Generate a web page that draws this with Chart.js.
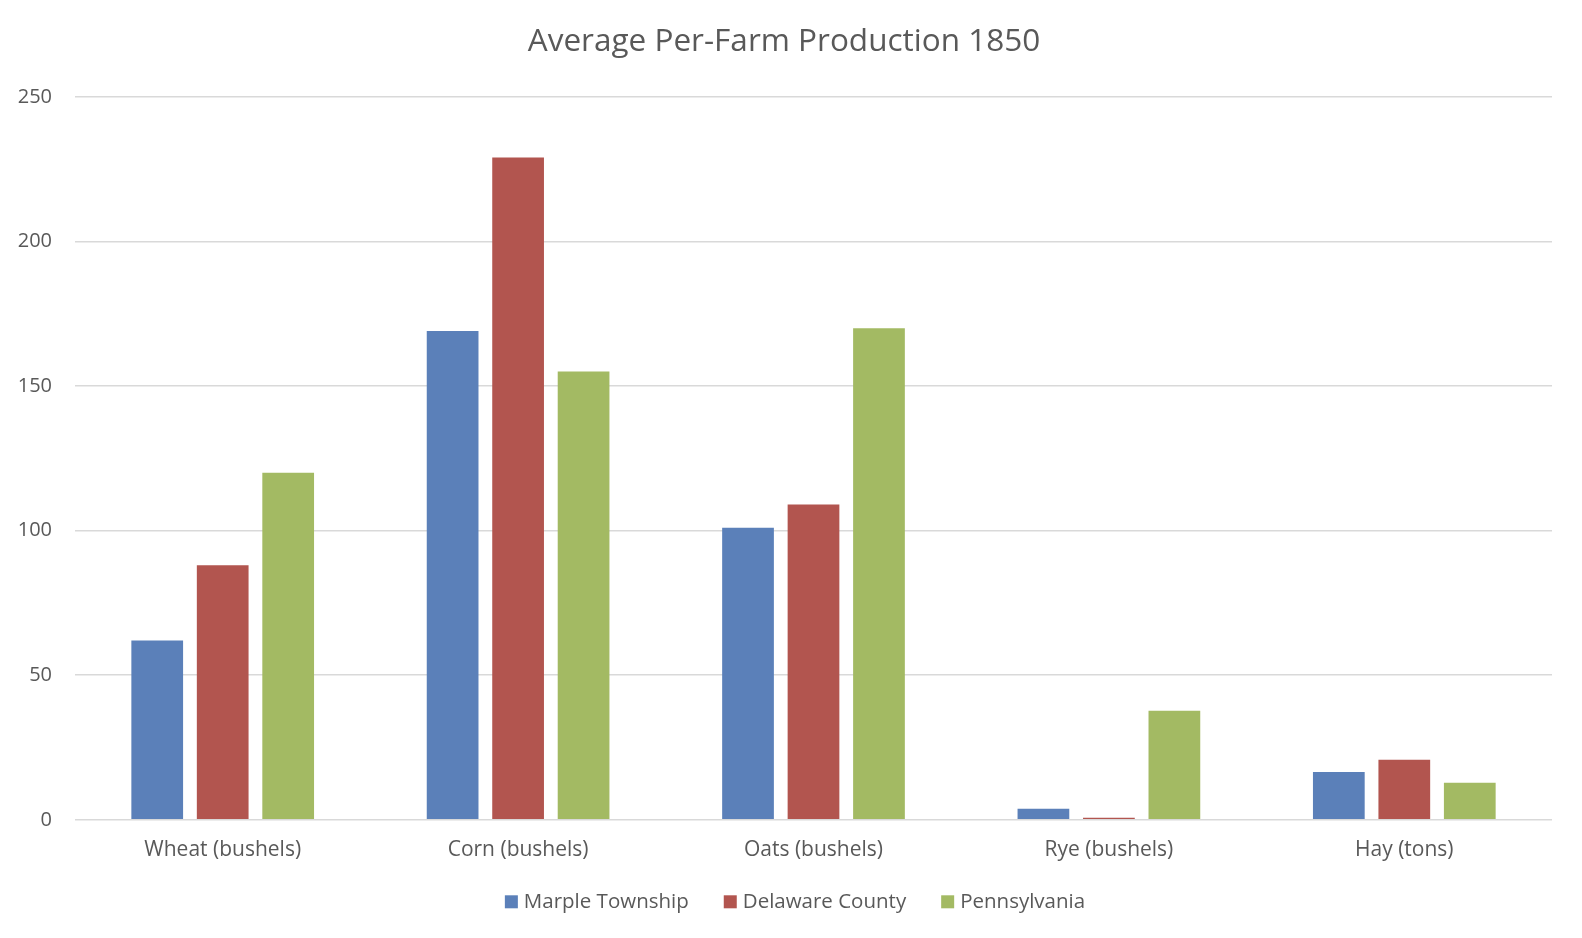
<!DOCTYPE html>
<html>
<head>
<meta charset="utf-8">
<script src="https://cdn.jsdelivr.net/npm/chart.js@4"></script>
<style>
  html, body { margin: 0; padding: 0; background: #fff; }
  #wrap { width: 1582px; height: 938px; }
</style>
</head>
<body>
<div id="wrap"><canvas id="chart"></canvas></div>
<script>
// data
const categories = ["Wheat (bushels)", "Corn (bushels)", "Oats (bushels)", "Rye (bushels)", "Hay (tons)"];
const marple = [62, 169, 101, 3.8, 16.5];
const delaware = [88, 229, 109, 0.7, 20.8];
const pennsylvania = [120, 155, 170, 37.7, 12.8];
const yTicks = [0, 50, 100, 150, 200, 250];

const font = "'Open Sans', 'Noto Sans', sans-serif";
const txt = "#595959";

// legend drawn by hand so the box/text gaps look like the Excel one
const bottomLegend = {
  id: "bottomLegend",
  afterDraw(chart) {
    const c = chart.ctx;
    c.save();
    c.font = "20.5px " + font;
    c.textBaseline = "middle";
    const box = 13, gapText = 6, gapItem = 35;
    const items = chart.data.datasets.map((ds) => ({
      text: ds.label,
      color: ds.backgroundColor,
      w: c.measureText(ds.label).width,
    }));
    const total = items.reduce((s, it) => s + box + gapText + it.w, 0) + gapItem * (items.length - 1);
    let x = chart.width / 2 + 4 - total / 2;
    const y = chart.chartArea.bottom + 82;
    items.forEach((it) => {
      c.fillStyle = it.color;
      c.fillRect(x, y - box / 2, box, box);
      x += box + gapText;
      c.fillStyle = txt;
      c.fillText(it.text, x, y);
      x += it.w + gapItem;
    });
    c.restore();
  },
};

const ctx = document.getElementById("chart").getContext("2d");
new Chart(ctx, {
  type: "bar",
  data: {
    labels: categories,
    datasets: [
      { label: "Marple Township", data: marple, backgroundColor: "#5B80B9" },
      { label: "Delaware County", data: delaware, backgroundColor: "#B2554F" },
      { label: "Pennsylvania", data: pennsylvania, backgroundColor: "#A3BA63" },
    ],
  },
  options: {
    responsive: true,
    maintainAspectRatio: false,
    animation: false,
    layout: { padding: { left: 16, right: 30, top: 23, bottom: 65 } },
    datasets: { bar: { categoryPercentage: 0.665, barPercentage: 0.79 } },
    plugins: {
      title: {
        display: true,
        text: "Average Per-Farm Production 1850",
        color: txt,
        font: { family: font, size: 31.5, weight: "normal" },
        padding: { top: 0, bottom: 36 },
      },
      legend: { display: false },
      tooltip: { enabled: false },
    },
    scales: {
      x: {
        grid: { display: false },
        border: { display: false },
        ticks: { color: txt, font: { family: font, size: 21 }, padding: 10 },
      },
      y: {
        min: 0,
        max: 250,
        afterBuildTicks: (axis) => { axis.ticks = yTicks.map((v) => ({ value: v })); },
        afterFit: (axis) => { axis.width = 59; },
        grid: { color: "#D9D9D9", lineWidth: 1.5, drawTicks: false },
        border: { display: false },
        ticks: { color: txt, font: { family: font, size: 20 }, padding: 23 },
      },
    },
  },
  plugins: [bottomLegend],
});
</script>
</body>
</html>
